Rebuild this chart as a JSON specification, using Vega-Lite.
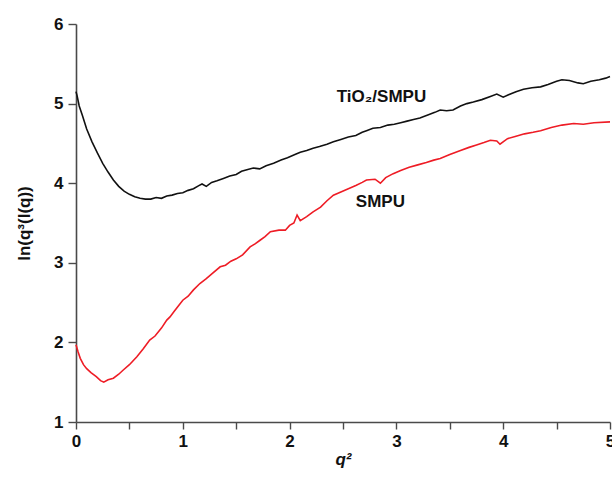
{
  "$schema": "https://vega.github.io/schema/vega-lite/v6.json",
  "autosize": {"type": "none"},
  "width": 534,
  "height": 398,
  "padding": {"left": 76, "top": 24, "right": 2, "bottom": 57},
  "background": "white",
  "config": {
    "view": {"stroke": null},
    "font": "Liberation Sans",
    "axis": {"grid": false, "domainColor": "#4a4a4a", "domainWidth": 1.6, "tickColor": "#4a4a4a", "tickWidth": 1.4, "labelFont": "Liberation Sans", "labelFontWeight": "bold", "labelFontSize": 17, "labelColor": "#111", "titleFont": "Liberation Sans", "titleFontWeight": "bold", "titleFontSize": 17, "titleColor": "#111"}
  },
  "datasets": {
    "curves": [
      {"q2": 0.00, "v": 5.15, "s": "TiO2/SMPU"}, {"q2": 0.01, "v": 5.10, "s": "TiO2/SMPU"}, {"q2": 0.03, "v": 4.97, "s": "TiO2/SMPU"}, {"q2": 0.06, "v": 4.85, "s": "TiO2/SMPU"}, {"q2": 0.10, "v": 4.68, "s": "TiO2/SMPU"}, {"q2": 0.15, "v": 4.52, "s": "TiO2/SMPU"}, {"q2": 0.20, "v": 4.38, "s": "TiO2/SMPU"}, {"q2": 0.25, "v": 4.25, "s": "TiO2/SMPU"}, {"q2": 0.30, "v": 4.14, "s": "TiO2/SMPU"}, {"q2": 0.35, "v": 4.04, "s": "TiO2/SMPU"}, {"q2": 0.40, "v": 3.96, "s": "TiO2/SMPU"}, {"q2": 0.45, "v": 3.90, "s": "TiO2/SMPU"}, {"q2": 0.50, "v": 3.86, "s": "TiO2/SMPU"}, {"q2": 0.55, "v": 3.83, "s": "TiO2/SMPU"}, {"q2": 0.60, "v": 3.81, "s": "TiO2/SMPU"}, {"q2": 0.65, "v": 3.80, "s": "TiO2/SMPU"}, {"q2": 0.70, "v": 3.80, "s": "TiO2/SMPU"}, {"q2": 0.75, "v": 3.82, "s": "TiO2/SMPU"}, {"q2": 0.80, "v": 3.81, "s": "TiO2/SMPU"}, {"q2": 0.85, "v": 3.84, "s": "TiO2/SMPU"}, {"q2": 0.90, "v": 3.85, "s": "TiO2/SMPU"}, {"q2": 0.95, "v": 3.87, "s": "TiO2/SMPU"}, {"q2": 1.00, "v": 3.88, "s": "TiO2/SMPU"}, {"q2": 1.05, "v": 3.91, "s": "TiO2/SMPU"}, {"q2": 1.10, "v": 3.93, "s": "TiO2/SMPU"}, {"q2": 1.15, "v": 3.97, "s": "TiO2/SMPU"}, {"q2": 1.18, "v": 3.99, "s": "TiO2/SMPU"}, {"q2": 1.22, "v": 3.96, "s": "TiO2/SMPU"}, {"q2": 1.27, "v": 4.01, "s": "TiO2/SMPU"}, {"q2": 1.32, "v": 4.03, "s": "TiO2/SMPU"}, {"q2": 1.38, "v": 4.06, "s": "TiO2/SMPU"}, {"q2": 1.44, "v": 4.09, "s": "TiO2/SMPU"}, {"q2": 1.50, "v": 4.11, "s": "TiO2/SMPU"}, {"q2": 1.55, "v": 4.15, "s": "TiO2/SMPU"}, {"q2": 1.60, "v": 4.17, "s": "TiO2/SMPU"}, {"q2": 1.66, "v": 4.19, "s": "TiO2/SMPU"}, {"q2": 1.72, "v": 4.18, "s": "TiO2/SMPU"}, {"q2": 1.78, "v": 4.22, "s": "TiO2/SMPU"}, {"q2": 1.85, "v": 4.25, "s": "TiO2/SMPU"}, {"q2": 1.92, "v": 4.29, "s": "TiO2/SMPU"}, {"q2": 1.98, "v": 4.32, "s": "TiO2/SMPU"}, {"q2": 2.05, "v": 4.36, "s": "TiO2/SMPU"}, {"q2": 2.10, "v": 4.39, "s": "TiO2/SMPU"}, {"q2": 2.16, "v": 4.41, "s": "TiO2/SMPU"}, {"q2": 2.22, "v": 4.44, "s": "TiO2/SMPU"}, {"q2": 2.28, "v": 4.46, "s": "TiO2/SMPU"}, {"q2": 2.35, "v": 4.49, "s": "TiO2/SMPU"}, {"q2": 2.41, "v": 4.52, "s": "TiO2/SMPU"}, {"q2": 2.48, "v": 4.55, "s": "TiO2/SMPU"}, {"q2": 2.55, "v": 4.58, "s": "TiO2/SMPU"}, {"q2": 2.62, "v": 4.60, "s": "TiO2/SMPU"}, {"q2": 2.68, "v": 4.64, "s": "TiO2/SMPU"}, {"q2": 2.72, "v": 4.66, "s": "TiO2/SMPU"}, {"q2": 2.78, "v": 4.69, "s": "TiO2/SMPU"}, {"q2": 2.85, "v": 4.70, "s": "TiO2/SMPU"}, {"q2": 2.92, "v": 4.73, "s": "TiO2/SMPU"}, {"q2": 2.98, "v": 4.74, "s": "TiO2/SMPU"}, {"q2": 3.04, "v": 4.76, "s": "TiO2/SMPU"}, {"q2": 3.10, "v": 4.78, "s": "TiO2/SMPU"}, {"q2": 3.16, "v": 4.80, "s": "TiO2/SMPU"}, {"q2": 3.22, "v": 4.82, "s": "TiO2/SMPU"}, {"q2": 3.30, "v": 4.86, "s": "TiO2/SMPU"}, {"q2": 3.36, "v": 4.89, "s": "TiO2/SMPU"}, {"q2": 3.41, "v": 4.92, "s": "TiO2/SMPU"}, {"q2": 3.47, "v": 4.91, "s": "TiO2/SMPU"}, {"q2": 3.53, "v": 4.92, "s": "TiO2/SMPU"}, {"q2": 3.60, "v": 4.97, "s": "TiO2/SMPU"}, {"q2": 3.66, "v": 5.00, "s": "TiO2/SMPU"}, {"q2": 3.72, "v": 5.02, "s": "TiO2/SMPU"}, {"q2": 3.80, "v": 5.05, "s": "TiO2/SMPU"}, {"q2": 3.88, "v": 5.09, "s": "TiO2/SMPU"}, {"q2": 3.94, "v": 5.12, "s": "TiO2/SMPU"}, {"q2": 4.00, "v": 5.08, "s": "TiO2/SMPU"}, {"q2": 4.05, "v": 5.11, "s": "TiO2/SMPU"}, {"q2": 4.12, "v": 5.15, "s": "TiO2/SMPU"}, {"q2": 4.19, "v": 5.18, "s": "TiO2/SMPU"}, {"q2": 4.27, "v": 5.20, "s": "TiO2/SMPU"}, {"q2": 4.35, "v": 5.21, "s": "TiO2/SMPU"}, {"q2": 4.42, "v": 5.24, "s": "TiO2/SMPU"}, {"q2": 4.50, "v": 5.28, "s": "TiO2/SMPU"}, {"q2": 4.55, "v": 5.30, "s": "TiO2/SMPU"}, {"q2": 4.62, "v": 5.29, "s": "TiO2/SMPU"}, {"q2": 4.70, "v": 5.26, "s": "TiO2/SMPU"}, {"q2": 4.75, "v": 5.25, "s": "TiO2/SMPU"}, {"q2": 4.82, "v": 5.28, "s": "TiO2/SMPU"}, {"q2": 4.90, "v": 5.30, "s": "TiO2/SMPU"}, {"q2": 4.96, "v": 5.32, "s": "TiO2/SMPU"}, {"q2": 5.00, "v": 5.34, "s": "TiO2/SMPU"},
      {"q2": 0.00, "v": 1.97, "s": "SMPU"}, {"q2": 0.02, "v": 1.88, "s": "SMPU"}, {"q2": 0.04, "v": 1.80, "s": "SMPU"}, {"q2": 0.07, "v": 1.72, "s": "SMPU"}, {"q2": 0.10, "v": 1.67, "s": "SMPU"}, {"q2": 0.14, "v": 1.62, "s": "SMPU"}, {"q2": 0.19, "v": 1.57, "s": "SMPU"}, {"q2": 0.23, "v": 1.52, "s": "SMPU"}, {"q2": 0.26, "v": 1.50, "s": "SMPU"}, {"q2": 0.30, "v": 1.53, "s": "SMPU"}, {"q2": 0.35, "v": 1.55, "s": "SMPU"}, {"q2": 0.40, "v": 1.60, "s": "SMPU"}, {"q2": 0.44, "v": 1.65, "s": "SMPU"}, {"q2": 0.50, "v": 1.72, "s": "SMPU"}, {"q2": 0.57, "v": 1.82, "s": "SMPU"}, {"q2": 0.63, "v": 1.92, "s": "SMPU"}, {"q2": 0.69, "v": 2.03, "s": "SMPU"}, {"q2": 0.74, "v": 2.08, "s": "SMPU"}, {"q2": 0.80, "v": 2.18, "s": "SMPU"}, {"q2": 0.85, "v": 2.28, "s": "SMPU"}, {"q2": 0.88, "v": 2.32, "s": "SMPU"}, {"q2": 0.92, "v": 2.39, "s": "SMPU"}, {"q2": 0.96, "v": 2.46, "s": "SMPU"}, {"q2": 1.00, "v": 2.53, "s": "SMPU"}, {"q2": 1.05, "v": 2.58, "s": "SMPU"}, {"q2": 1.10, "v": 2.66, "s": "SMPU"}, {"q2": 1.16, "v": 2.74, "s": "SMPU"}, {"q2": 1.22, "v": 2.80, "s": "SMPU"}, {"q2": 1.28, "v": 2.87, "s": "SMPU"}, {"q2": 1.35, "v": 2.95, "s": "SMPU"}, {"q2": 1.40, "v": 2.97, "s": "SMPU"}, {"q2": 1.45, "v": 3.02, "s": "SMPU"}, {"q2": 1.50, "v": 3.05, "s": "SMPU"}, {"q2": 1.56, "v": 3.10, "s": "SMPU"}, {"q2": 1.63, "v": 3.20, "s": "SMPU"}, {"q2": 1.68, "v": 3.24, "s": "SMPU"}, {"q2": 1.72, "v": 3.28, "s": "SMPU"}, {"q2": 1.77, "v": 3.33, "s": "SMPU"}, {"q2": 1.82, "v": 3.39, "s": "SMPU"}, {"q2": 1.90, "v": 3.41, "s": "SMPU"}, {"q2": 1.96, "v": 3.41, "s": "SMPU"}, {"q2": 2.00, "v": 3.47, "s": "SMPU"}, {"q2": 2.04, "v": 3.50, "s": "SMPU"}, {"q2": 2.07, "v": 3.60, "s": "SMPU"}, {"q2": 2.10, "v": 3.53, "s": "SMPU"}, {"q2": 2.16, "v": 3.58, "s": "SMPU"}, {"q2": 2.22, "v": 3.64, "s": "SMPU"}, {"q2": 2.29, "v": 3.70, "s": "SMPU"}, {"q2": 2.35, "v": 3.78, "s": "SMPU"}, {"q2": 2.41, "v": 3.85, "s": "SMPU"}, {"q2": 2.48, "v": 3.89, "s": "SMPU"}, {"q2": 2.55, "v": 3.93, "s": "SMPU"}, {"q2": 2.62, "v": 3.97, "s": "SMPU"}, {"q2": 2.68, "v": 4.01, "s": "SMPU"}, {"q2": 2.72, "v": 4.04, "s": "SMPU"}, {"q2": 2.80, "v": 4.05, "s": "SMPU"}, {"q2": 2.85, "v": 4.00, "s": "SMPU"}, {"q2": 2.90, "v": 4.07, "s": "SMPU"}, {"q2": 2.97, "v": 4.12, "s": "SMPU"}, {"q2": 3.04, "v": 4.16, "s": "SMPU"}, {"q2": 3.12, "v": 4.20, "s": "SMPU"}, {"q2": 3.20, "v": 4.23, "s": "SMPU"}, {"q2": 3.28, "v": 4.26, "s": "SMPU"}, {"q2": 3.35, "v": 4.29, "s": "SMPU"}, {"q2": 3.41, "v": 4.31, "s": "SMPU"}, {"q2": 3.50, "v": 4.36, "s": "SMPU"}, {"q2": 3.60, "v": 4.41, "s": "SMPU"}, {"q2": 3.68, "v": 4.45, "s": "SMPU"}, {"q2": 3.75, "v": 4.48, "s": "SMPU"}, {"q2": 3.82, "v": 4.51, "s": "SMPU"}, {"q2": 3.88, "v": 4.54, "s": "SMPU"}, {"q2": 3.94, "v": 4.53, "s": "SMPU"}, {"q2": 3.97, "v": 4.49, "s": "SMPU"}, {"q2": 4.04, "v": 4.56, "s": "SMPU"}, {"q2": 4.12, "v": 4.59, "s": "SMPU"}, {"q2": 4.20, "v": 4.62, "s": "SMPU"}, {"q2": 4.28, "v": 4.64, "s": "SMPU"}, {"q2": 4.35, "v": 4.66, "s": "SMPU"}, {"q2": 4.45, "v": 4.70, "s": "SMPU"}, {"q2": 4.55, "v": 4.73, "s": "SMPU"}, {"q2": 4.66, "v": 4.75, "s": "SMPU"}, {"q2": 4.75, "v": 4.74, "s": "SMPU"}, {"q2": 4.85, "v": 4.76, "s": "SMPU"}, {"q2": 5.00, "v": 4.77, "s": "SMPU"}
    ],
    "labels": [
      {"q2": 2.86, "v": 5.08, "label": "TiO₂/SMPU"},
      {"q2": 2.85, "v": 3.76, "label": "SMPU"}
    ]
  },
  "layer": [
    {
      "data": {"name": "curves"},
      "mark": {"type": "line", "strokeWidth": 1.6, "interpolate": "linear"},
      "encoding": {
        "x": {"field": "q2", "type": "quantitative", "scale": {"domain": [0, 5], "nice": false, "zero": false},
              "axis": {"values": [0, 0.5, 1, 1.5, 2, 2.5, 3, 3.5, 4, 4.5, 5], "labelExpr": "datum.value % 1 === 0 ? datum.value : ''", "tickSize": 7, "labelPadding": 4, "title": "q²", "titleFontStyle": "italic", "titlePadding": 2, "labelFlush": false, "labelOverlap": false,
                       "encode": {"ticks": {"update": {"y2": [{"test": "datum.value % 1 === 0", "value": 7}, {"value": 4}]}}}}},
        "y": {"field": "v", "type": "quantitative", "scale": {"domain": [1, 6], "nice": false, "zero": false},
              "axis": {"values": [1, 1.5, 2, 2.5, 3, 3.5, 4, 4.5, 5, 5.5, 6], "labelExpr": "datum.value % 1 === 0 ? datum.value : ''", "tickSize": 8, "labelPadding": 5, "title": "ln(q³(I(q))", "titlePadding": 20, "labelFlush": false, "labelOverlap": false,
                       "encode": {"ticks": {"update": {"x2": [{"test": "datum.value % 1 === 0", "value": -8}, {"value": -4}]}}}}},
        "color": {"field": "s", "type": "nominal", "scale": {"domain": ["TiO2/SMPU", "SMPU"], "range": ["#111111", "#ee1c25"]}, "legend": null}
      }
    },
    {
      "data": {"name": "labels"},
      "mark": {"type": "text", "font": "Liberation Sans", "fontWeight": "bold", "fontSize": 17, "color": "#111"},
      "encoding": {
        "x": {"field": "q2", "type": "quantitative"},
        "y": {"field": "v", "type": "quantitative"},
        "text": {"field": "label"}
      }
    }
  ]
}
